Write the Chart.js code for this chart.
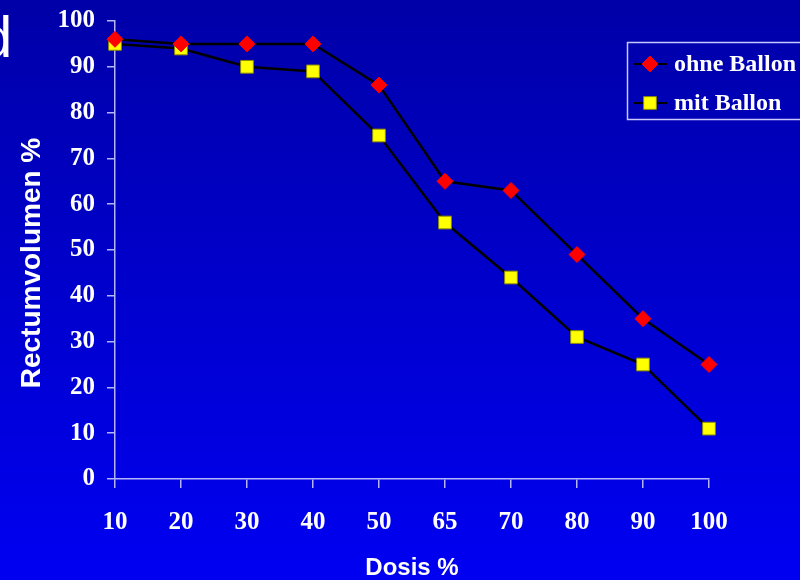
<!DOCTYPE html>
<html>
<head>
<meta charset="utf-8">
<script src="https://cdn.jsdelivr.net/npm/chart.js@4.4.0/dist/chart.umd.min.js"></script>
<style>
  html, body { margin: 0; padding: 0; background: #0000c8; }
  #wrap { width: 800px; height: 580px; position: relative; }
</style>
</head>
<body>
<div id="wrap"><canvas id="doseChart" width="800" height="580"></canvas></div>
<script>
/* global Chart */
const doseLabels = ['10', '20', '30', '40', '50', '65', '70', '80', '90', '100']
const ohneBallon = [96, 95, 95, 95, 86, 65, 63, 49, 35, 25]
const mitBallon = [95, 94, 90, 89, 75, 56, 44, 31, 25, 11]
const yTicks = [0, 10, 20, 30, 40, 50, 60, 70, 80, 90, 100]

const axisColor = '#b4b4ff'
const serif = "'Liberation Serif', 'Times New Roman', serif"
const sans = "'Liberation Sans', Arial, sans-serif"

// blue slide background, "d" panel letter, y title and the boxed legend
const slidePlugin = {
  id: 'slide',
  beforeDraw (chart) {
    const { ctx, width, height } = chart
    const grad = ctx.createLinearGradient(0, 0, 0, height)
    grad.addColorStop(0, '#0000a8')
    grad.addColorStop(1, '#0000f2')
    ctx.save()
    ctx.fillStyle = grad
    ctx.fillRect(0, 0, width, height)
    ctx.fillStyle = '#ffffff'
    ctx.font = '58px ' + sans
    ctx.textBaseline = 'alphabetic'
    ctx.fillText('d', -20, 57)
    ctx.restore()
  },
  afterDraw (chart) {
    const { ctx } = chart
    ctx.save()
    // y axis title
    ctx.translate(32, 263)
    ctx.rotate(-Math.PI / 2)
    ctx.fillStyle = '#ffffff'
    ctx.font = 'bold 28px ' + sans
    ctx.textAlign = 'center'
    ctx.textBaseline = 'middle'
    ctx.fillText('Rectumvolumen %', 0, 0)
    ctx.restore()

    // legend
    ctx.save()
    ctx.strokeStyle = '#c8c8ff'
    ctx.lineWidth = 1.5
    ctx.strokeRect(627.5, 42.5, 200, 77)
    const rows = [64, 103]
    chart.data.datasets.forEach((ds, i) => {
      const y = rows[i]
      ctx.strokeStyle = '#000000'
      ctx.lineWidth = 2
      ctx.beginPath()
      ctx.moveTo(634, y)
      ctx.lineTo(667, y)
      ctx.stroke()
      ctx.fillStyle = ds.pointBackgroundColor
      ctx.strokeStyle = ds.pointBorderColor
      ctx.lineWidth = ds.pointBorderWidth
      Chart.helpers.drawPoint(ctx, {
        pointStyle: ds.pointStyle,
        radius: ds.pointRadius,
        borderWidth: ds.pointBorderWidth
      }, 650, y)
      ctx.fillStyle = '#ffffff'
      ctx.font = 'bold 24px ' + serif
      ctx.textBaseline = 'middle'
      ctx.fillText(ds.label, 674, y + 1)
    })
    ctx.restore()
  }
}

const ctx = document.getElementById('doseChart').getContext('2d')

const doseChart = new Chart(ctx, {
  type: 'line',
  data: {
    labels: doseLabels,
    datasets: [
      {
        label: 'ohne Ballon',
        data: ohneBallon,
        borderColor: '#000000',
        borderWidth: 2.5,
        tension: 0,
        pointStyle: 'rectRot',
        pointRadius: 8,
        pointHoverRadius: 8,
        pointBackgroundColor: '#ff0000',
        pointBorderColor: '#ff0000',
        pointBorderWidth: 1,
        clip: false
      },
      {
        label: 'mit Ballon',
        data: mitBallon,
        borderColor: '#000000',
        borderWidth: 2.5,
        tension: 0,
        pointStyle: 'rect',
        pointRadius: 9,
        pointHoverRadius: 9,
        pointBackgroundColor: '#ffff00',
        pointBorderColor: '#8c8c00',
        pointBorderWidth: 1,
        clip: false
      }
    ]
  },
  options: {
    responsive: false,
    animation: false,
    layout: {
      padding: { top: 21, right: 91, left: 0, bottom: 0 }
    },
    plugins: {
      legend: { display: false },
      tooltip: { enabled: false }
    },
    scales: {
      x: {
        offset: false,
        grid: {
          drawOnChartArea: false,
          color: axisColor,
          tickLength: 9,
          lineWidth: 1.5
        },
        border: { color: axisColor, width: 1.5 },
        ticks: {
          color: '#ffffff',
          padding: 20,
          maxRotation: 0,
          font: { family: serif, size: 25, weight: 'bold' }
        },
        title: {
          display: true,
          text: 'Dosis %',
          color: '#ffffff',
          padding: 0,
          font: { family: sans, size: 24, weight: 'bold', lineHeight: 1 }
        },
        afterFit (scale) { scale.height = 101 }
      },
      y: {
        min: 0,
        max: 100,
        afterBuildTicks (scale) { scale.ticks = yTicks.map(v => ({ value: v })) },
        grid: {
          drawOnChartArea: false,
          color: axisColor,
          tickLength: 8,
          lineWidth: 1.5
        },
        border: { color: axisColor, width: 1.5 },
        ticks: {
          color: '#ffffff',
          padding: 12,
          font: { family: serif, size: 25, weight: 'bold' }
        },
        afterFit (scale) {
          scale.width = 115
          scale.paddingTop = 0
        }
      }
    }
  },
  plugins: [slidePlugin]
})
</script>
</body>
</html>
